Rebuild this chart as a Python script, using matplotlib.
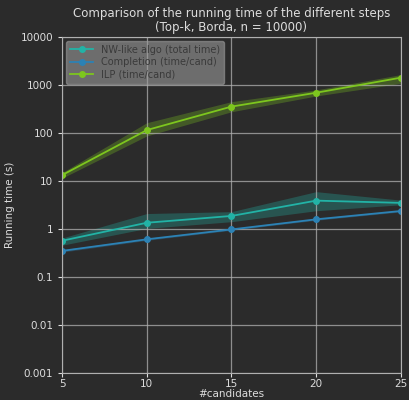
import matplotlib
matplotlib.use("Agg")
import matplotlib.pyplot as plt
import numpy as np

candidates = [5, 10, 15, 20, 25]

nw_mean = [0.57, 1.35, 1.87, 3.9, 3.5]
nw_low = [0.46, 1.03, 1.42, 2.4, 3.2]
nw_high = [0.65, 2.1, 2.3, 6.0, 4.0]

comp_mean = [0.35, 0.61, 0.98, 1.59, 2.37]
comp_low = [0.33, 0.58, 0.94, 1.52, 2.27]
comp_high = [0.37, 0.64, 1.02, 1.66, 2.47]

ilp_mean = [13.3, 115, 355, 690, 1420]
ilp_low = [11.5, 87, 277, 590, 1085]
ilp_high = [15, 164, 450, 790, 1650]

bg = '#2b2b2b'
fig = plt.figure(figsize=(4.09, 4.0), dpi=100, facecolor=bg)
ax = fig.add_axes([0.152, 0.0675, 0.828, 0.84])
ax.set_facecolor(bg)

series = [
    ('NW-like algo (total time)', nw_mean, nw_low, nw_high, '#22b3a6'),
    ('Completion (time/cand)', comp_mean, comp_low, comp_high, '#2c82b5'),
    ('ILP (time/cand)', ilp_mean, ilp_low, ilp_high, '#7dc61e'),
]
for label, m, lo, hi, c in series:
    ax.fill_between(candidates, lo, hi, color=c, alpha=0.3, linewidth=0)
    ax.plot(candidates, m, '-o', color=c, lw=1.3, ms=4, label=label)

ax.set_yscale('log')
ax.set_ylim(0.001, 10000)
ax.set_xlim(5, 25)
ax.set_xticks(candidates)
yt = [0.001, 0.01, 0.1, 1, 10, 100, 1000, 10000]
ax.set_yticks(yt)
ax.set_yticklabels(['0.001', '0.01', '0.1', '1', '10', '100', '1000', '10000'])
ax.minorticks_off()
ax.grid(True, color='#b0b0b0', lw=0.9, alpha=0.75)

for s in ax.spines.values():
    s.set_color('#b0b0b0')
ax.tick_params(colors='#dddddd', labelsize=7.5, length=3)
ax.tick_params(axis='x', pad=1.5)
ax.set_xlabel('#candidates', color='#dddddd', fontsize=7.5, labelpad=0)
ax.set_ylabel('Running time (s)', color='#dddddd', fontsize=7.5)
ax.set_title('Comparison of the running time of the different steps\n(Top-k, Borda, n = 10000)',
             color='#dddddd', fontsize=8.5, pad=4, linespacing=1.1)

leg = ax.legend(loc='upper left', fontsize=7, facecolor='#9a9a9a', edgecolor='#9a9a9a',
                framealpha=0.6, borderaxespad=0.4, handlelength=2.4, labelspacing=0.25)
for t in leg.get_texts():
    t.set_color('#3a3a3a')

fig.savefig('out.png', dpi=100, facecolor=bg)
